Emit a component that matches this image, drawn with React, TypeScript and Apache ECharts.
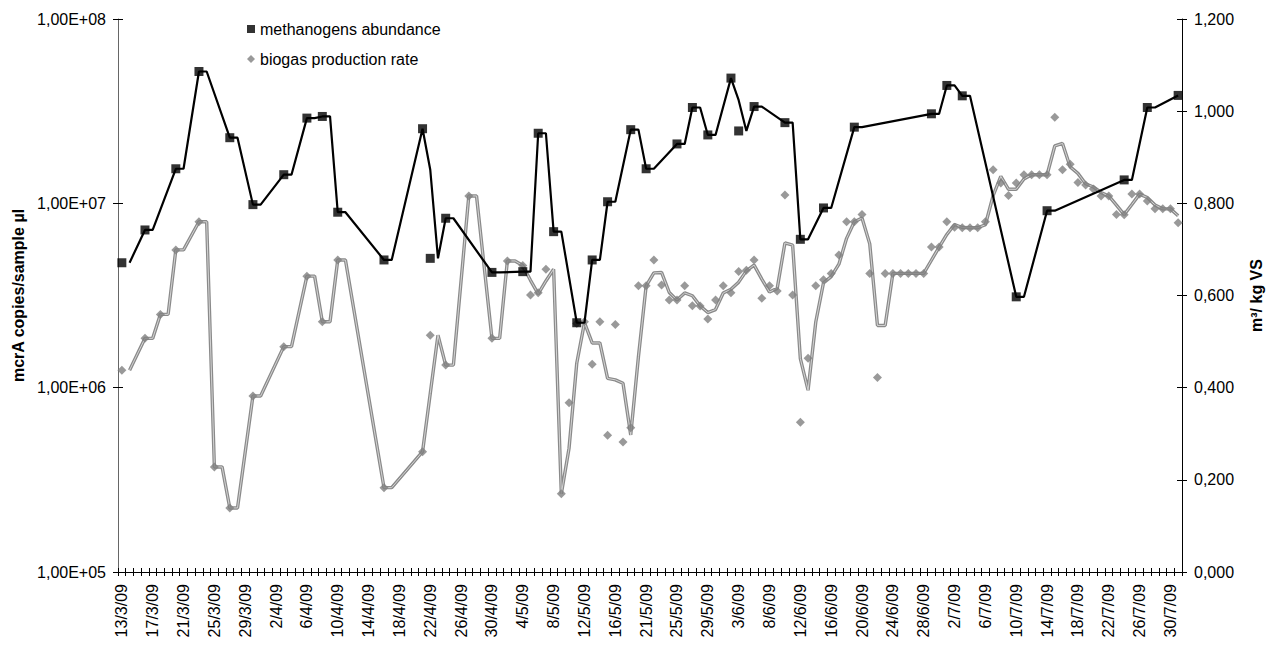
import React, { useEffect, useRef } from "react";
import * as echarts from "echarts";

// Category axis (text dates, a few days missing as in the source sheet)
const categories: string[] = [
  "13/3/09","14/3/09","15/3/09","16/3/09","17/3/09","18/3/09","19/3/09","20/3/09","21/3/09","22/3/09","23/3/09","24/3/09","25/3/09","26/3/09","27/3/09","28/3/09","29/3/09","30/3/09","31/3/09",
  "1/4/09","2/4/09","3/4/09","4/4/09","5/4/09","6/4/09","7/4/09","8/4/09","9/4/09","10/4/09","11/4/09","12/4/09","13/4/09","14/4/09","15/4/09","16/4/09","17/4/09","18/4/09","19/4/09","20/4/09","21/4/09","22/4/09","23/4/09","24/4/09","25/4/09","26/4/09","27/4/09","28/4/09","29/4/09","30/4/09",
  "1/5/09","2/5/09","3/5/09","4/5/09","5/5/09","6/5/09","7/5/09","8/5/09","9/5/09","10/5/09","11/5/09","12/5/09","13/5/09","14/5/09","15/5/09","16/5/09","17/5/09","18/5/09","20/5/09","21/5/09","22/5/09","23/5/09","24/5/09","25/5/09","26/5/09","27/5/09","28/5/09","29/5/09","30/5/09","31/5/09",
  "2/6/09","3/6/09","4/6/09","5/6/09","7/6/09","8/6/09","9/6/09","10/6/09","11/6/09","12/6/09","13/6/09","14/6/09","15/6/09","16/6/09","17/6/09","18/6/09","19/6/09","20/6/09","21/6/09","22/6/09","23/6/09","24/6/09","25/6/09","26/6/09","27/6/09","28/6/09","29/6/09","30/6/09",
  "1/7/09","2/7/09","3/7/09","4/7/09","5/7/09","6/7/09","7/7/09","8/7/09","9/7/09","10/7/09","11/7/09","12/7/09","13/7/09","14/7/09","15/7/09","16/7/09","17/7/09","18/7/09","19/7/09","20/7/09","21/7/09","22/7/09","23/7/09","24/7/09","25/7/09","26/7/09","27/7/09","28/7/09","29/7/09","30/7/09","31/7/09",
];

// methanogens abundance (mcrA copies / sample µl)
const methanogenDates: string[] = [
  "13/3/09","16/3/09","20/3/09","23/3/09","27/3/09","30/3/09","3/4/09","6/4/09","8/4/09","10/4/09",
  "16/4/09","21/4/09","22/4/09","24/4/09","30/4/09","4/5/09","6/5/09","8/5/09","11/5/09","13/5/09",
  "15/5/09","18/5/09","21/5/09","25/5/09","27/5/09","29/5/09","2/6/09","3/6/09","5/6/09","10/6/09",
  "12/6/09","15/6/09","19/6/09","29/6/09","1/7/09","3/7/09","10/7/09","14/7/09","24/7/09","27/7/09","31/7/09",
];
const methanogenValues: number[] = [
  4.76e6, 7.17e6, 1.54e7, 5.19e7, 2.27e7, 9.84e6, 1.43e7, 2.9e7, 2.96e7, 8.95e6,
  4.93e6, 2.54e7, 5.03e6, 8.3e6, 4.22e6, 4.26e6, 2.4e7, 7.02e6, 2.25e6, 4.93e6,
  1.02e7, 2.51e7, 1.54e7, 2.1e7, 3.31e7, 2.35e7, 4.78e7, 2.47e7, 3.35e7, 2.74e7,
  6.38e6, 9.44e6, 2.59e7, 3.06e7, 4.36e7, 3.83e7, 3.11e6, 9.12e6, 1.34e7, 3.31e7, 3.85e7,
];

// biogas production rate (m3 / kg VS)
const biogasDates: string[] = [
  "13/3/09","16/3/09","18/3/09","20/3/09","23/3/09","25/3/09","27/3/09","30/3/09","3/4/09","6/4/09",
  "8/4/09","10/4/09","16/4/09","21/4/09","22/4/09","24/4/09","27/4/09","30/4/09","2/5/09","4/5/09",
  "5/5/09","6/5/09","7/5/09","9/5/09","10/5/09","11/5/09","12/5/09","13/5/09","14/5/09",
  "15/5/09","16/5/09","17/5/09","18/5/09","20/5/09","21/5/09","22/5/09","23/5/09","24/5/09","25/5/09",
  "26/5/09","27/5/09","28/5/09","29/5/09","30/5/09","31/5/09","2/6/09","3/6/09","4/6/09","5/6/09",
  "7/6/09","8/6/09","9/6/09","10/6/09","11/6/09","12/6/09","13/6/09","14/6/09","15/6/09","16/6/09",
  "17/6/09","18/6/09","19/6/09","20/6/09","21/6/09","22/6/09","23/6/09","24/6/09","25/6/09","26/6/09",
  "27/6/09","28/6/09","29/6/09","30/6/09","1/7/09","2/7/09","3/7/09","4/7/09","5/7/09","6/7/09",
  "7/7/09","8/7/09","9/7/09","10/7/09","11/7/09","12/7/09","13/7/09","14/7/09","15/7/09","16/7/09",
  "17/7/09","18/7/09","19/7/09","20/7/09","21/7/09","22/7/09","23/7/09","24/7/09","25/7/09","26/7/09",
  "27/7/09","28/7/09","29/7/09","30/7/09","31/7/09",
];
const biogasValues: number[] = [
  0.438, 0.507, 0.559, 0.699, 0.76, 0.228, 0.139, 0.382, 0.489, 0.642,
  0.543, 0.677, 0.183, 0.261, 0.514, 0.449, 0.816, 0.507, 0.675, 0.665,
  0.601, 0.606, 0.657, 0.17, 0.367, 0.539, 0.543, 0.451, 0.543,
  0.297, 0.537, 0.282, 0.313, 0.621, 0.621, 0.677, 0.623, 0.59, 0.59,
  0.621, 0.578, 0.577, 0.549, 0.59, 0.621, 0.606, 0.652, 0.655, 0.677,
  0.594, 0.621, 0.61, 0.818, 0.601, 0.325, 0.464, 0.621, 0.634, 0.648,
  0.688, 0.76, 0.76, 0.776, 0.648, 0.422, 0.648, 0.648, 0.648, 0.648,
  0.648, 0.648, 0.705, 0.705, 0.76, 0.748, 0.747, 0.747, 0.747, 0.76,
  0.873, 0.844, 0.817, 0.844, 0.862, 0.862, 0.862, 0.862, 0.987, 0.873,
  0.885, 0.845, 0.84, 0.831, 0.816, 0.816, 0.776, 0.775, 0.82, 0.82,
  0.805, 0.788, 0.788, 0.788, 0.758,
];

const seriesNames = ["methanogens abundance", "biogas production rate"];
const leftAxisName = "mcrA copies/sample µl";
const rightAxisName = "m³/ kg VS";

const FONT = "'Liberation Sans', Arial, sans-serif";

function alignToCategories(dates: string[], values: number[]): (number | null)[] {
  const out: (number | null)[] = categories.map(() => null);
  dates.forEach((d, i) => {
    const k = categories.indexOf(d);
    if (k >= 0) out[k] = values[i];
  });
  return out;
}

// Excel-style 2-period moving average trendline (blank cells ignored)
function movingAverage2(arr: (number | null)[]): (number | null)[] {
  return arr.map((v, i) => {
    if (i === 0) return null;
    const vals = [arr[i - 1], v].filter((x) => x != null) as number[];
    if (!vals.length) return null;
    return vals.reduce((a, b) => a + b, 0) / vals.length;
  });
}

export default function App() {
  const ref = useRef<HTMLDivElement>(null);
  useEffect(() => {
    document.body.style.margin = "0";
    if (!ref.current) return;
    const chart = echarts.init(ref.current, undefined, { renderer: "svg" });

    const meth = alignToCategories(methanogenDates, methanogenValues);
    const bio = alignToCategories(biogasDates, biogasValues);
    const methPts = meth.map((v, i) => (v == null ? null : [i, v])).filter(Boolean);
    const bioPts = bio.map((v, i) => (v == null ? null : [i, v])).filter(Boolean);

    const textStyle = { fontFamily: FONT, color: "#000", fontSize: 16 };

    chart.setOption({
      animation: false,
      backgroundColor: "#fff",
      textStyle: { fontFamily: FONT },
      grid: { left: 118, right: 96, top: 19, bottom: 80, containLabel: false },
      legend: {
        orient: "vertical",
        left: 242,
        top: 16,
        itemWidth: 8,
        itemHeight: 8,
        itemGap: 14,
        data: [
          { name: seriesNames[0], icon: "rect" },
          { name: seriesNames[1], icon: "diamond" },
        ],
        textStyle: { ...textStyle, fontSize: 16 },
      },
      xAxis: [
        {
          type: "category",
          data: categories,
          boundaryGap: true,
          axisLine: { lineStyle: { color: "#000", width: 1 } },
          axisTick: { show: true, interval: 0, length: 4, lineStyle: { color: "#000" } },
          axisLabel: {
            interval: 3,
            rotate: 90,
            margin: 12,
            ...textStyle,
            fontSize: 16,
          },
          splitLine: { show: false },
        },
        {
          type: "category",
          data: categories,
          position: "bottom",
          boundaryGap: true,
          axisLine: { show: false },
          axisTick: { show: true, inside: true, interval: 0, length: 4, lineStyle: { color: "#000" } },
          axisLabel: { show: false },
          splitLine: { show: false },
        },
      ],
      yAxis: [
        {
          type: "log",
          logBase: 10,
          min: 1e5,
          max: 1e8,
          position: "left",
          name: leftAxisName,
          nameLocation: "middle",
          nameRotate: 90,
          nameGap: 92,
          nameTextStyle: { ...textStyle, fontSize: 16, fontWeight: "bold" },
          axisLine: { show: true, lineStyle: { color: "#666" } },
          axisTick: { show: true, length: 5, lineStyle: { color: "#000" } },
          axisLabel: {
            margin: 12,
            ...textStyle,
            formatter: (v: number) => "1,00E+" + String(Math.round(Math.log10(v))).padStart(2, "0"),
          },
          splitLine: { show: false },
          minorTick: { show: false },
        },
        {
          type: "value",
          min: 0,
          max: 1.2,
          interval: 0.2,
          position: "right",
          name: rightAxisName,
          nameLocation: "middle",
          nameRotate: 90,
          nameGap: 66,
          nameTextStyle: { ...textStyle, fontSize: 16, fontWeight: "bold" },
          axisLine: { show: true, lineStyle: { color: "#000" } },
          axisTick: { show: true, length: 5, lineStyle: { color: "#000" } },
          axisLabel: {
            margin: 12,
            ...textStyle,
            formatter: (v: number) => v.toFixed(3).replace(".", ","),
          },
          splitLine: { show: false },
        },
        {
          type: "log",
          logBase: 10,
          min: 1e5,
          max: 1e8,
          position: "left",
          axisLine: { show: false },
          axisTick: { show: true, inside: true, length: 5, lineStyle: { color: "#000" } },
          axisLabel: { show: false },
          splitLine: { show: false },
        },
        {
          type: "value",
          min: 0,
          max: 1.2,
          interval: 0.2,
          position: "right",
          axisLine: { show: false },
          axisTick: { show: true, inside: true, length: 5, lineStyle: { color: "#000" } },
          axisLabel: { show: false },
          splitLine: { show: false },
        },
      ],
      series: [
        {
          name: "biogas trend",
          type: "line",
          yAxisIndex: 1,
          data: movingAverage2(bio),
          connectNulls: true,
          showSymbol: false,
          symbol: "none",
          lineStyle: { color: "#8a8a8a", width: 3.4 },
          z: 2,
          silent: true,
        },
        {
          name: "biogas trend inner",
          type: "line",
          yAxisIndex: 1,
          data: movingAverage2(bio),
          connectNulls: true,
          showSymbol: false,
          symbol: "none",
          lineStyle: { color: "#d4d4d4", width: 1 },
          z: 3,
          silent: true,
        },
        {
          name: seriesNames[1],
          type: "scatter",
          yAxisIndex: 1,
          data: bioPts,
          symbol: "diamond",
          symbolSize: 9,
          itemStyle: { color: "#808080" },
          z: 4,
        },
        {
          name: "methanogens trend",
          type: "line",
          yAxisIndex: 0,
          data: movingAverage2(meth),
          connectNulls: true,
          showSymbol: false,
          symbol: "none",
          lineStyle: { color: "#000", width: 2.2 },
          z: 5,
          silent: true,
        },
        {
          name: seriesNames[0],
          type: "scatter",
          yAxisIndex: 0,
          data: methPts,
          symbol: "rect",
          symbolSize: 9,
          itemStyle: { color: "#000" },
          z: 6,
        },
      ],
    });
    return () => chart.dispose();
  }, []);
  return <div ref={ref} style={{ width: 1278, height: 652 }} />;
}
